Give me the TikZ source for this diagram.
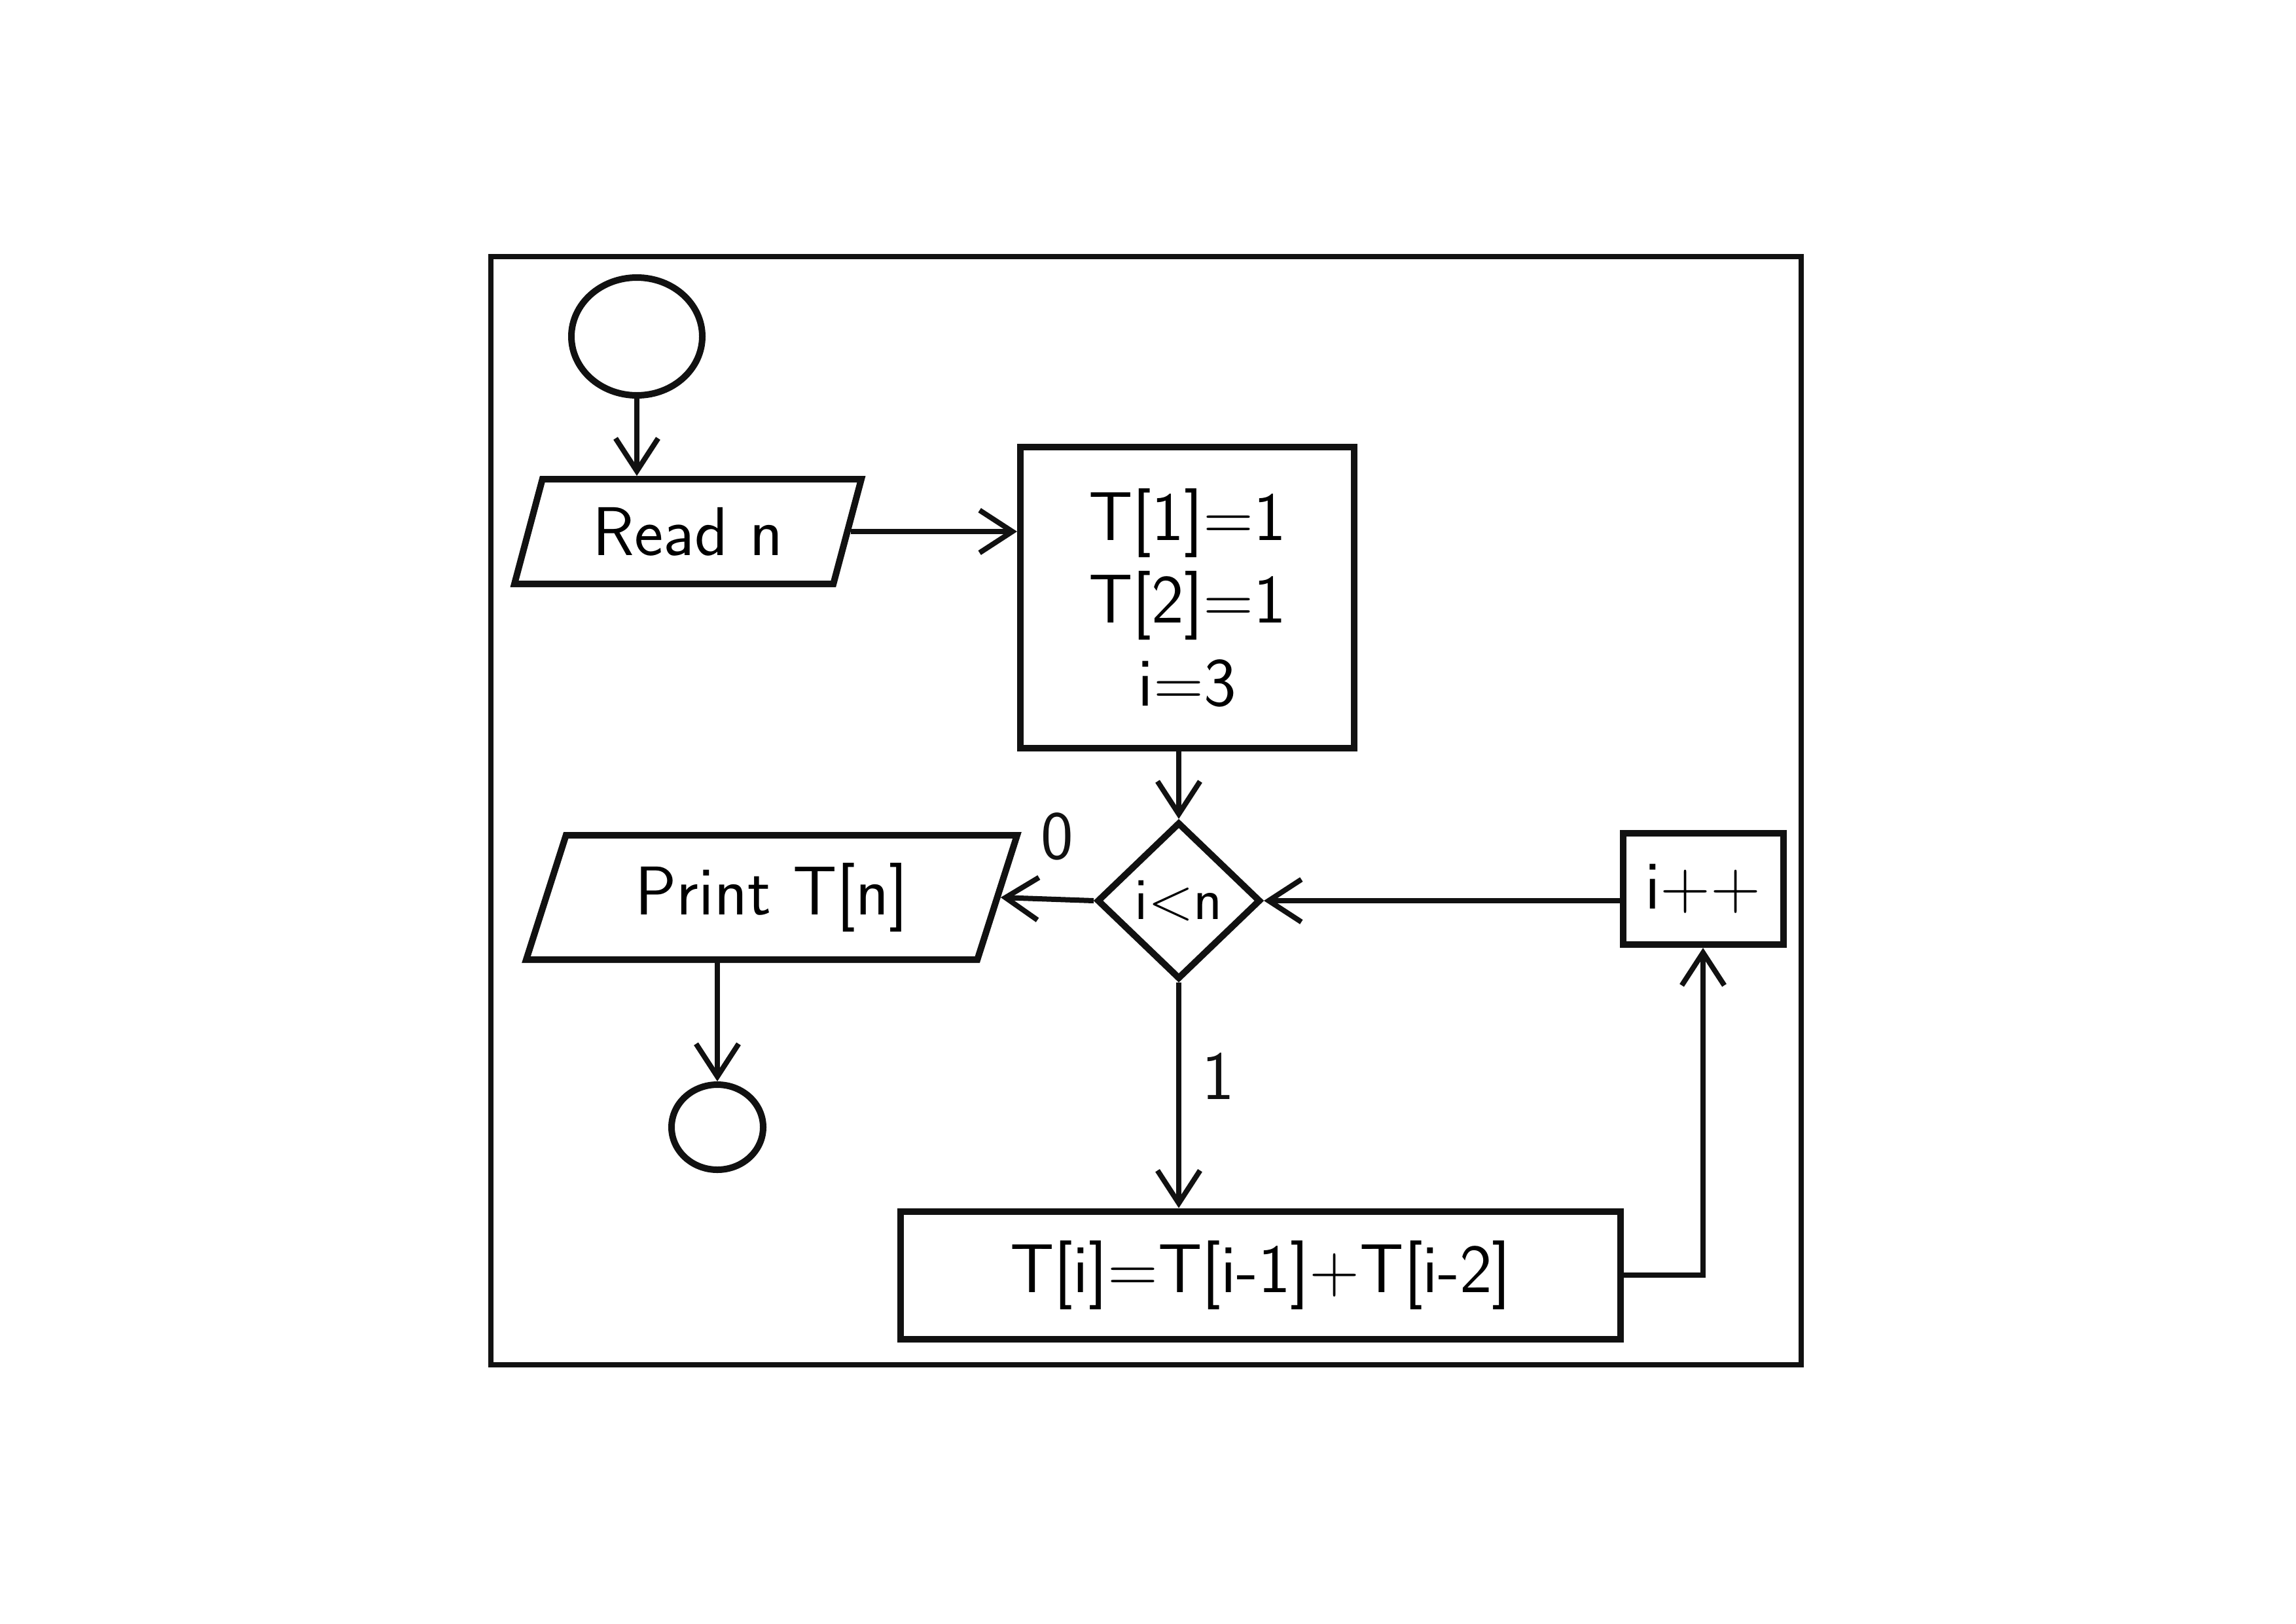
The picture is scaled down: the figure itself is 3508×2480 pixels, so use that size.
\documentclass[tikz,border=0pt]{standalone}
\usepackage{xcolor}
\definecolor{ink}{HTML}{111111}
\usepackage{tikz}
\usetikzlibrary{arrows.meta, positioning, shapes.geometric}
\tikzset{
  >={Straight Barb[length=5mm, width=6.5mm, line width=0.8mm]},
  edge line/.style={draw=ink, line width=1mm},
  box/.style={edge line, rectangle, align=center, inner sep=0pt},
  io/.style={edge line, trapezium, trapezium left angle=60, trapezium right angle=120,
    trapezium stretches body, inner sep=0pt},
  term/.style={edge line, ellipse, inner sep=0pt},
  test/.style={edge line, diamond, inner sep=0pt, font=\sffamily\fontsize{26}{30}\selectfont},
  flow/.style={->, line width=0.8mm, color=ink},
  tag/.style={text=ink},
}

\begin{document}
\begin{tikzpicture}[x=0.1mm, y=-0.1mm, font=\sffamily\fontsize{30}{36}\selectfont]
  \useasboundingbox (0,0) rectangle (3508,2480);
  % outer frame
  \draw[edge line, line width=0.8mm] (750,392) rectangle (2752,2085);
  % start and read
  \node[term, minimum width=20mm, minimum height=18mm] (start) at (973,514) {};
  \node[io, minimum width=53mm, minimum height=16mm] (read) at (1051,812) {Read n};
  % initialisation
  \node[box, minimum width=51mm, minimum height=46mm] (init) at (1814,913)
    {T[1]=1\\T[2]=1\\i=3};
  % loop test
  \node[test, minimum width=25mm, minimum height=24mm] (test) at (1801,1376) {i<n};
  \node[io, minimum width=75mm, minimum height=19mm] (print) at (1179,1371) {Print T[n]};
  \node[term, minimum width=14mm, minimum height=13mm] (stop) at (1096,1722) {};
  % loop body
  \node[box, minimum width=110mm, minimum height=19.5mm] (body) at (1926,1948)
    {T[i]=T[i-1]+T[i-2]};
  \node[box, minimum width=24.5mm, minimum height=17mm] (incr) at (2602,1358) {i++};
  % connectors
  \draw[flow] (start.south) -- (start.south |- read.north);
  \draw[flow] (read.east) -- (read.east -| init.west);
  \draw[flow] (init.south -| test.north) -- (test.north);
  \draw[flow] (test.west) -- (print.east);
  \node[tag] (no) at (1615,1278) {0};
  \draw[flow] (stop.north |- print.south) -- (stop.north);
  \draw[flow] (test.south) -- (test.south |- body.north);
  \node[tag] (yes) at (1861,1644) {1};
  \draw[flow] (body.east) -| (incr.south);
  \draw[flow] (incr.west |- test.east) -- (test.east);
\end{tikzpicture}
\end{document}
